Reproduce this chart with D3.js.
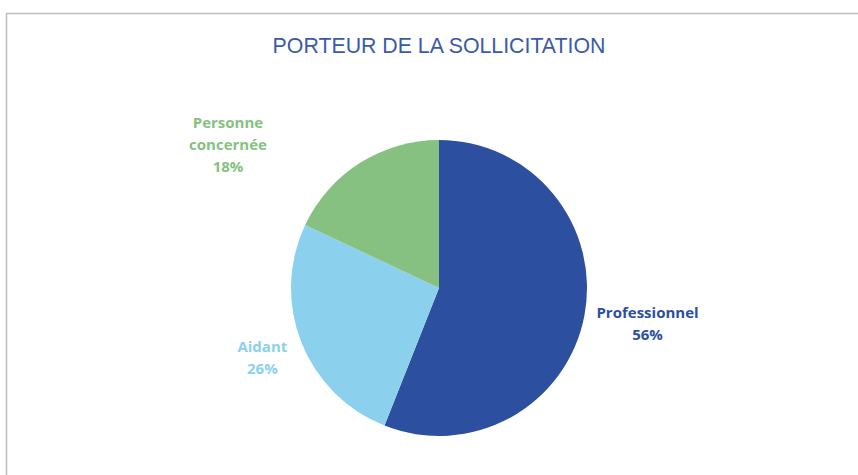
<!DOCTYPE html>
<html><head><meta charset="utf-8">
<script src="https://cdn.jsdelivr.net/npm/d3@7"></script>
<style>html,body{margin:0;padding:0;background:#fff;}svg{display:block;}</style>
</head><body>
<svg id="chart" width="858" height="475"></svg>
<script>
const title = "PORTEUR DE LA SOLLICITATION";
const categories = ["Professionnel", "Aidant", "Personne concernée"];
const values = [56, 26, 18];
const colors = ["#2D4F9F", "#8BD1EE", "#86C181"];
const labelLines = [["Professionnel"], ["Aidant"], ["Personne", "concernée"]];

const svg = d3.select("#chart");
const W = 858, H = 475;
const cx = 439, cy = 288, R = 148;

// border
svg.append("rect").attr("x", 6.5).attr("y", 13.5).attr("width", 900).attr("height", 500)
  .attr("fill", "#fff").attr("stroke", "#BDBDBD").attr("stroke-width", 1.5);

// title
const t = svg.append("text").attr("x", cx).attr("y", 53).attr("text-anchor", "middle")
  .attr("font-family", "'Liberation Sans Narrow', 'Arial Narrow', 'Liberation Sans', sans-serif")
  .attr("font-size", 23).attr("fill", "#3A5BA8").text(title);
const tw = t.node().getComputedTextLength();
t.attr("font-size", 23 * 333 / tw);

const pie = d3.pie().sort(null).value(d => d)(values);
const arc = d3.arc().innerRadius(0).outerRadius(R);
const g = svg.append("g").attr("transform", `translate(${cx},${cy})`);
g.selectAll("path").data(pie).join("path")
  .attr("d", arc).attr("fill", (d, i) => colors[i]);

// label placement (layout)
const labelArc = d3.arc().innerRadius(R * 1.4).outerRadius(R * 1.4);
const adjust = [[5, -3], [16, -6], [-100, 32]];
const lineH = 22;
pie.forEach((d, i) => {
  const [x, y] = labelArc.centroid(d);
  const lines = labelLines[i].concat([values[i] + "%"]);
  const lx = cx + x + adjust[i][0];
  const ly = cy + y + adjust[i][1] - (lines.length - 1) * lineH / 2;
  const txt = svg.append("text").attr("text-anchor", "middle")
    .attr("font-family", "'Open Sans', 'Noto Sans', sans-serif").attr("font-weight", "bold")
    .attr("font-size", 15).attr("fill", colors[i]);
  lines.forEach((l, k) => {
    txt.append("tspan").attr("x", lx).attr("y", ly + k * lineH + 5).text(l);
  });
});
</script>
</body></html>
